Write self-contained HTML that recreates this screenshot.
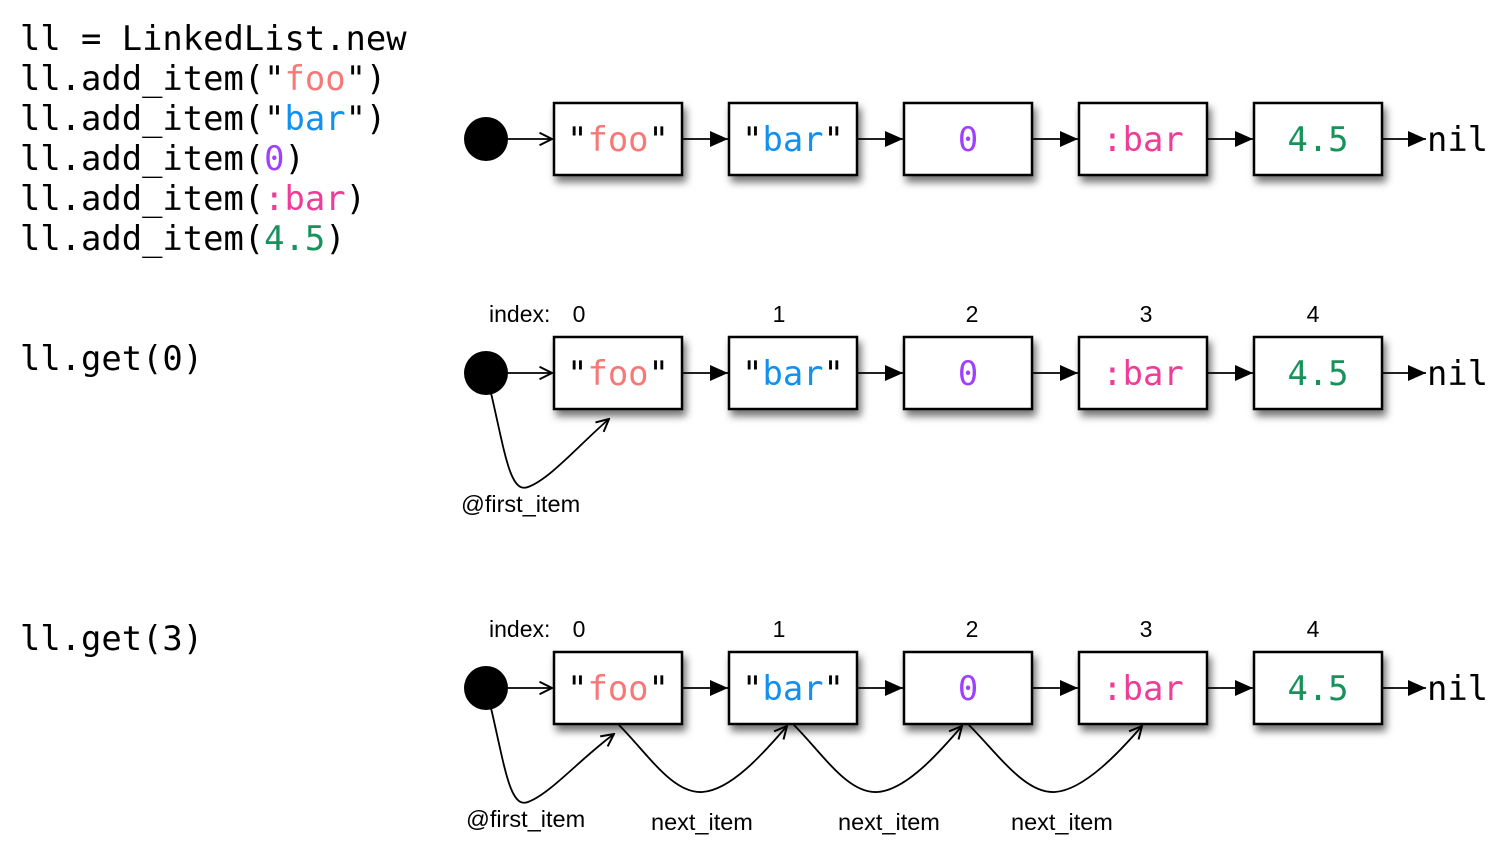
<!DOCTYPE html>
<html><head><meta charset="utf-8">
<style>
html,body{margin:0;padding:0;background:#fff;}
svg{display:block;}
.code{font-family:"DejaVu Sans Mono","Liberation Mono",monospace;font-size:33.8px;fill:#000;}
.lbl{font-family:"Liberation Sans",sans-serif;font-size:23.5px;fill:#000;}
.idx{font-family:"Liberation Sans",sans-serif;font-size:23px;fill:#000;}
</style></head>
<body>
<svg id="s" width="1508" height="854" viewBox="0 0 1508 854" xmlns="http://www.w3.org/2000/svg">
<defs>
<filter id="sh" x="-20%" y="-20%" width="150%" height="160%">
<feDropShadow dx="3" dy="6" stdDeviation="4" flood-color="#000" flood-opacity="0.55"/>
</filter>
<marker id="fill" viewBox="0 0 18 16" refX="18" refY="8" markerWidth="18" markerHeight="16" markerUnits="userSpaceOnUse" orient="auto">
<path d="M0,0 L18,8 L0,16 Z" fill="#000"/>
</marker>
<marker id="open" viewBox="0 0 12 12" refX="11" refY="6" markerWidth="15" markerHeight="15" markerUnits="userSpaceOnUse" orient="auto">
<path d="M1,1 L11,6 L1,11" fill="none" stroke="#000" stroke-width="1.6"/>
</marker>
</defs>
<g id="code"></g>
<g id="rows"></g>
</svg>
<script>
const values = ['foo','bar','0',':bar','4.5'];
const quoted = [true,true,false,false,false];
const colors = ['#f87878','#1090f0','#a040ff','#f03c96','#16925a'];
const indexLabels = ['0','1','2','3','4'];
const codeLines = [
  [['ll = LinkedList.new','#000']],
  [['ll.add_item("','#000'],['foo','#f87878'],['")','#000']],
  [['ll.add_item("','#000'],['bar','#1090f0'],['")','#000']],
  [['ll.add_item(','#000'],['0','#a040ff'],[')','#000']],
  [['ll.add_item(','#000'],[':bar','#f03c96'],[')','#000']],
  [['ll.add_item(','#000'],['4.5','#16925a'],[')','#000']],
  [['ll.get(0)','#000']],
  [['ll.get(3)','#000']]
];
const codeY = [50,90,130,170,210,250,370,650];
const rowY = [103,337,652];
const rowIndex = [false,true,true];
const rowGet = [-1,0,3];

const NS='http://www.w3.org/2000/svg';
const svg=document.getElementById('s');
function el(tag,attrs,parent){const e=document.createElementNS(NS,tag);for(const k in attrs)e.setAttribute(k,attrs[k]);(parent||svg).appendChild(e);return e;}

const codeG=document.getElementById('code');
codeLines.forEach((ln,i)=>{
  const t=el('text',{x:20,y:codeY[i],class:'code'},codeG);
  
  
  ln.forEach(p=>{const ts=el('tspan',{fill:p[1]},t);ts.textContent=p[0];});
});

const boxX=i=>554+i*175;
const BW=128,BH=72;
const idxX=[579,779,972,1146,1313];
const rowsG=document.getElementById('rows');
rowY.forEach((y,r)=>{
  const g=el('g',{},rowsG);
  
  
  const cy=y+36;
  if(rowIndex[r]){
    const t=el('text',{x:489,y:y-15,class:'idx'},g);
    
    
    t.textContent='index:';
    indexLabels.forEach((lab,i)=>{
      const tt=el('text',{x:idxX[i],y:y-15,class:'idx','text-anchor':'middle'},g);
      
      
      tt.textContent=lab;
    });
  }
  const c=el('circle',{cx:486,cy:cy,r:22,fill:'#000'},g);
  
  
  const a=el('line',{x1:508,y1:cy,x2:552,y2:cy,stroke:'#000','stroke-width':1.8,'marker-end':'url(#open)'},g);
  
  
  values.forEach((v,i)=>{
    const x=boxX(i);
    const rect=el('rect',{x:x,y:y,width:BW,height:BH,fill:'#fff',stroke:'#000','stroke-width':2.5,filter:'url(#sh)'},g);
    
    
    const t=el('text',{x:x+BW/2,y:cy+12,class:'code','text-anchor':'middle'},g);
    
    
    if(quoted[i]){const q=el('tspan',{fill:'#000'},t);q.textContent='"';}
    const ts=el('tspan',{fill:colors[i]},t);ts.textContent=v;
    if(quoted[i]){const q=el('tspan',{fill:'#000'},t);q.textContent='"';}
    const x2=i<values.length-1?boxX(i+1)-1:1426;
    const ar=el('line',{x1:x+BW+1,y1:cy,x2:x2,y2:cy,stroke:'#000','stroke-width':1.8,'marker-end':'url(#fill)'},g);
    
    
  });
  const nil=el('text',{x:1427,y:cy+12,class:'code'},g);
  
  
  nil.textContent='nil';
  if(rowGet[r]>=0){
    const by=y+BH;
    const tx=boxX(0)+55+(r==2?5:0), ty=by+10;
    const p=el('path',{d:`M491,${cy+20} C505,${cy+80} 510,${by+85} 528,${by+78} C550,${by+70} 580,${by+35} ${tx},${ty}`,fill:'none',stroke:'#000','stroke-width':1.8,'marker-end':'url(#open)'},g);
    
    
    const fl=el('text',{x:r==1?461:466,y:by+103,class:'lbl'},g);
    
    
    fl.textContent='@first_item';
    for(let i=0;i<rowGet[r];i++){
      const sx=boxX(i)+64, ex=boxX(i+1)+58+(i==2?5:0);
      const mx=(sx+ex)/2;
      const q=el('path',{d:`M${sx},${by} C${sx+30},${by+30} ${mx-30},${by+70} ${mx},${by+68} C${mx+30},${by+66} ${ex-20},${by+25} ${ex},${by+2}`,fill:'none',stroke:'#000','stroke-width':1.8,'marker-end':'url(#open)'},g);
      
      
      const nl=el('text',{x:[651,838,1011][i],y:by+106,class:'lbl'},g);
      
      
      nl.textContent='next_item';
    }
  }
});
</script>
</body></html>
